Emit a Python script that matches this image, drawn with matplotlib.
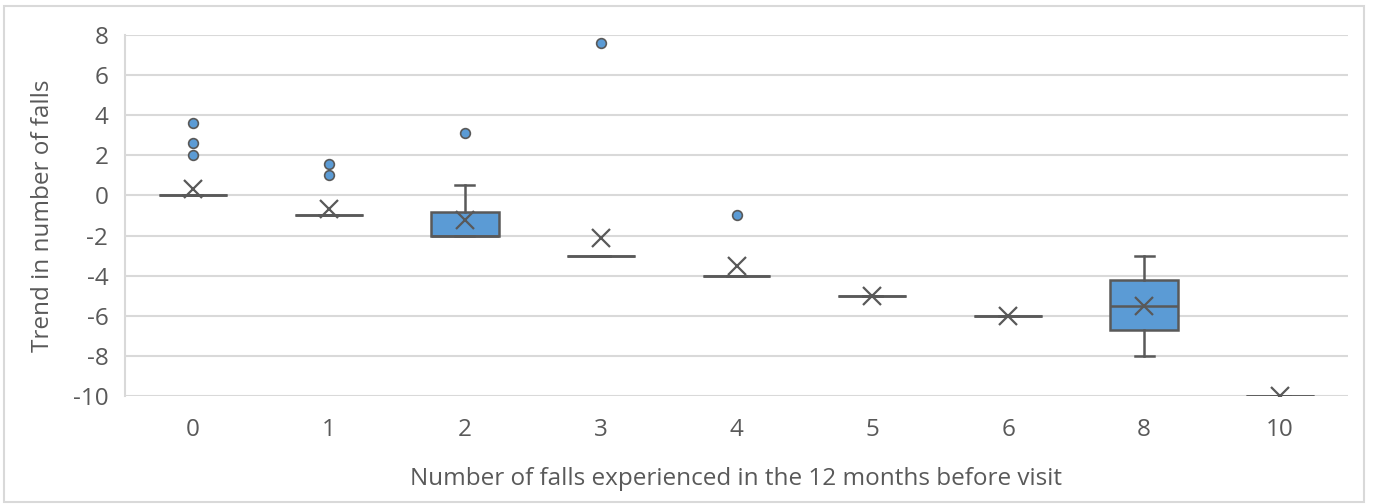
import matplotlib.pyplot as plt
from matplotlib.patches import Rectangle

# falls in the 12 months before visit (category labels)
categories = ['0', '1', '2', '3', '4', '5', '6', '8', '10']

# box statistics per category
q1 = [0, -1, -2, -3, -4, -5, -6, -6.7, -10]
median = [0, -1, -2, -3, -4, -5, -6, -5.5, -10]
q3 = [0, -1, -0.85, -3, -4, -5, -6, -4.2, -10]
whis_lo = [0, -1, -2, -3, -4, -5, -6, -8, -10]
whis_hi = [0, -1, 0.5, -3, -4, -5, -6, -3, -10]
mean = [0.3, -0.7, -1.2, -2.1, -3.5, -5, -6, -5.5, -10]
outliers = [[3.6, 2.6, 2.0], [1.55, 1.0], [3.1], [7.6], [-1.0], [], [], [], []]

plt.rcParams['font.family'] = ['Open Sans', 'DejaVu Sans']
plt.rcParams['axes.unicode_minus'] = False
grey = '#595959'
blue = '#5B9BD5'

fig = plt.figure(figsize=(13.74, 5.04), dpi=100)
ax = fig.add_axes([125 / 1374, 1 - 396 / 504, 1223 / 1374, 361 / 504])

stats = []
for i in range(len(categories)):
    stats.append({'q1': q1[i], 'med': median[i], 'q3': q3[i],
                  'whislo': whis_lo[i], 'whishi': whis_hi[i],
                  'mean': mean[i], 'fliers': outliers[i], 'label': categories[i]})

ax.bxp(stats, positions=range(len(categories)), widths=0.5, capwidths=0.14,
       showmeans=True, patch_artist=True,
       boxprops=dict(facecolor=blue, edgecolor=grey, linewidth=1.8),
       medianprops=dict(color=grey, linewidth=1.8),
       whiskerprops=dict(color=grey, linewidth=1.8),
       capprops=dict(color=grey, linewidth=1.8),
       meanprops=dict(marker='x', markeredgecolor=grey, markersize=13, markeredgewidth=1.6),
       flierprops=dict(marker='o', markerfacecolor=blue, markeredgecolor=grey,
                       markersize=7, markeredgewidth=1.2))

ax.set_xlim(-0.5, len(categories) - 0.5)
ax.set_ylim(-10, 8)
ax.set_yticks(range(-10, 9, 2))
ax.yaxis.grid(True, color='#D9D9D9', linewidth=1.5)
ax.set_axisbelow(True)
for s in ['top', 'right', 'bottom']:
    ax.spines[s].set_visible(False)
ax.spines['left'].set_color('#D9D9D9')
ax.spines['left'].set_linewidth(1.5)
ax.tick_params(length=0, labelsize=17.5, colors=grey)
ax.tick_params(axis='x', pad=16)
ax.tick_params(axis='y', pad=12)

ax.set_xlabel('Number of falls experienced in the 12 months before visit',
              fontsize=17.5, color=grey, labelpad=18)
ax.set_ylabel('Trend in number of falls', fontsize=17.5, color=grey, labelpad=13)

# light frame round the whole chart
fig.patches.append(Rectangle((4 / 1374, 2 / 504), 1360 / 1374, 496 / 504,
                             transform=fig.transFigure, fill=False,
                             edgecolor='#D9D9D9', linewidth=1.5))

fig.savefig('out.png', dpi=100)
